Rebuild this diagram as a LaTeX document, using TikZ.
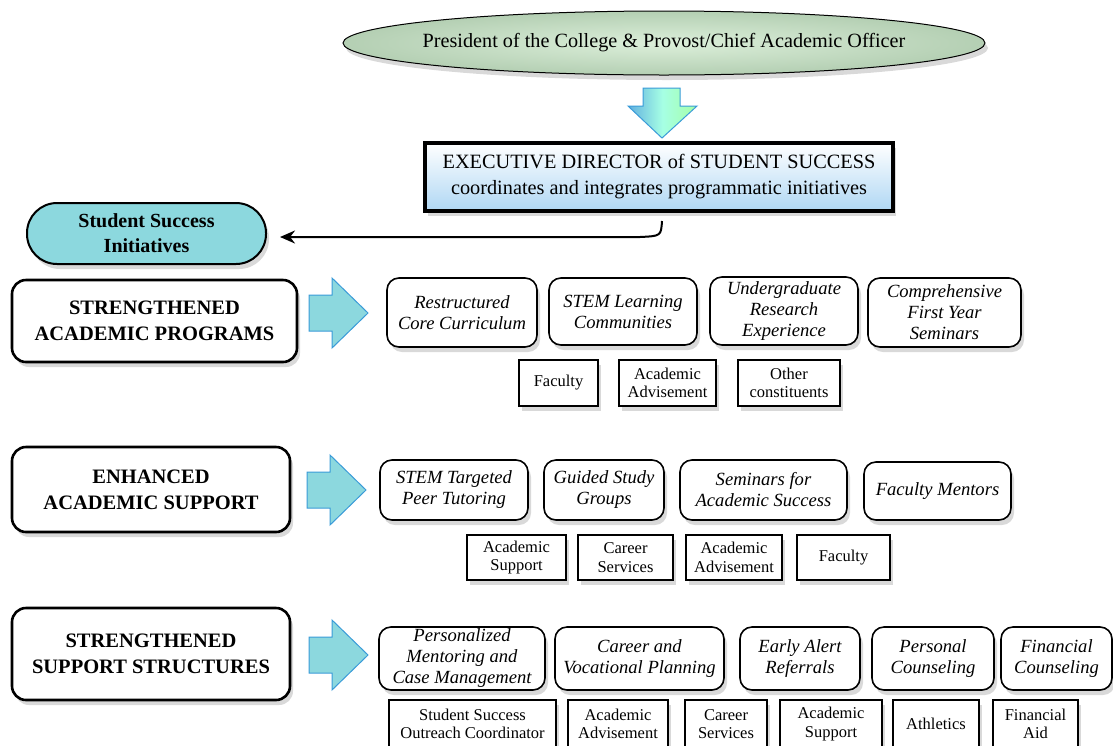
\documentclass[tikz,border=0pt]{standalone}
\usepackage{fontspec}
\setmainfont{Liberation Serif}
\usetikzlibrary{shadows,arrows.meta,calc,shapes.geometric}
\definecolor{cyanfill}{HTML}{8CD8DE}
\definecolor{arrowblue}{HTML}{3A9BD8}
\definecolor{ellgreen}{HTML}{DCEFDA}
\definecolor{ellgreendark}{HTML}{B4CFB3}
\definecolor{execblue}{HTML}{AFD7F4}
\newcommand\rightblock[2]{%
  \draw[arrowblue, line width=1pt, fill=cyanfill]
    (#1,#2-18) -- ++(23,0) -- ++(0,-17) -- ++(36,35) -- ++(-36,35) -- ++(0,-17) -- ++(-23,0) -- cycle;}
\begin{document}
\begin{tikzpicture}[x=1pt,y=-1pt,
  shd/.style={drop shadow={shadow xshift=3pt, shadow yshift=-5pt, opacity=0.3}},
  rbox/.style={draw, line width=1.6pt, rounded corners=12pt, fill=white, align=center, inner sep=0pt,
    font=\fontsize{18.6}{21}\selectfont\itshape, shd},
  sbox/.style={draw, line width=1.3pt, fill=white, align=center, inner sep=0pt,
    font=\fontsize{16.5}{18.5}\selectfont, shd},
  secbox/.style={draw, line width=2.6pt, rounded corners=14pt, fill=white, align=center, inner sep=0pt,
    font=\fontsize{20.5}{26}\selectfont\bfseries, shd},
]
\useasboundingbox (0,0) rectangle (1113,745);

% top
\node[ellipse, draw, line width=1pt, inner color=ellgreen, outer color=ellgreendark, minimum width=642pt, minimum height=64pt,
  inner sep=0pt, shd] (pres) at (664,43) {};
\node[font=\fontsize{20.2}{22}\selectfont, inner sep=0pt] (prestext) at (pres.center) {President of the College \& Provost/Chief Academic Officer};

% down arrow
\draw[arrowblue, line width=1pt, left color=arrowblue!80, right color=green!35!white, middle color=green!30!cyan!35]
  (643,88) -- (680,88) -- (680,106) -- (697,106) -- (662,138) -- (628,106) -- (643,106) -- cycle;

\node[draw, line width=4pt, top color=white, bottom color=execblue, minimum width=468pt, minimum height=68pt, inner sep=0pt,
  align=center, font=\fontsize{20.3}{26}\selectfont, shd] (exec) at (659,177)
  {EXECUTIVE DIRECTOR of STUDENT SUCCESS\\coordinates and integrates programmatic initiatives};

\node[draw, line width=2pt, fill=cyanfill, rounded corners=30pt, minimum width=239pt, minimum height=61pt, inner sep=0pt,
  align=center, font=\fontsize{20}{25}\selectfont\bfseries, shd] (ssi) at (146.5,233.5) {Student Success\\Initiatives};

\coordinate (c1) at (662,221);
\coordinate (c2) at (280,237);
\draw[line width=2pt, -{Stealth[length=15pt,width=13pt]}] (c1) .. controls (661,236) .. (640,237) -- (c2);

% sections
\node[secbox, minimum width=285pt, minimum height=82pt] (sec1) at (154.5,321) {STRENGTHENED\\ACADEMIC PROGRAMS};
\node[secbox, minimum width=278pt, minimum height=85pt] (sec2) at (151,489.5) {ENHANCED\\ACADEMIC SUPPORT};
\node[secbox, minimum width=278pt, minimum height=92pt] (sec3) at (151,654) {STRENGTHENED\\SUPPORT STRUCTURES};

\rightblock{309}{313}
\rightblock{307}{490}
\rightblock{309}{655}

% row 1
\node[rbox, minimum width=150pt, minimum height=69pt] (r11) at (462,312.5) {Restructured\\Core Curriculum};
\node[rbox, minimum width=148pt, minimum height=67pt] (r12) at (623,311.5) {STEM Learning\\Communities};
\node[rbox, minimum width=148pt, minimum height=68pt] (r13) at (784,311) {Undergraduate\\Research\\Experience};
\node[rbox, minimum width=153pt, minimum height=69pt] (r14) at (944.5,312.5) {Comprehensive\\First Year\\Seminars};
\node[sbox, minimum width=79pt, minimum height=46pt] (s11) at (558.5,383) {Faculty};
\node[sbox, minimum width=97pt, minimum height=46pt] (s12) at (667.5,383) {Academic\\Advisement};
\node[sbox, minimum width=102pt, minimum height=46pt] (s13) at (789,383) {Other\\constituents};

% row 2
\node[rbox, minimum width=148pt, minimum height=60pt] (r21) at (454,490) {STEM Targeted\\Peer Tutoring};
\node[rbox, minimum width=120pt, minimum height=60pt] (r22) at (604,490) {Guided Study\\Groups};
\node[rbox, minimum width=167pt, minimum height=60pt] (r23) at (763.5,490) {Seminars for\\Academic Success};
\node[rbox, minimum width=147pt, minimum height=58pt] (r24) at (937.5,491) {Faculty Mentors};
\node[sbox, minimum width=99pt, minimum height=45pt] (s21) at (516.5,557.5) {Academic\\Support};
\node[sbox, minimum width=95pt, minimum height=45pt] (s22) at (625.5,557.5) {Career\\Services};
\node[sbox, minimum width=96pt, minimum height=45pt] (s23) at (734,557.5) {Academic\\Advisement};
\node[sbox, minimum width=93pt, minimum height=45pt] (s24) at (843.5,557.5) {Faculty};

% row 3
\node[rbox, minimum width=166pt, minimum height=63pt] (r31) at (462,658.5) {Personalized\\Mentoring and\\Case Management};
\node[rbox, minimum width=169pt, minimum height=63pt] (r32) at (639.5,658.5) {Career and\\Vocational Planning};
\node[rbox, minimum width=120pt, minimum height=63pt] (r33) at (800,658.5) {Early Alert\\Referrals};
\node[rbox, minimum width=122pt, minimum height=63pt] (r34) at (933,658.5) {Personal\\Counseling};
\node[rbox, minimum width=111pt, minimum height=63pt] (r35) at (1056.5,658.5) {Financial\\Counseling};
\node[sbox, minimum width=167pt, minimum height=48pt] (s31) at (472.5,724) {Student Success\\Outreach Coordinator};
\node[sbox, minimum width=100pt, minimum height=48pt] (s32) at (618,724) {Academic\\Advisement};
\node[sbox, minimum width=82pt, minimum height=48pt] (s33) at (726,724) {Career\\Services};
\node[sbox, minimum width=102pt, minimum height=48pt] (s34) at (831,724) {Academic\\Support};
\node[sbox, minimum width=86pt, minimum height=48pt] (s35) at (936,724) {Athletics};
\node[sbox, minimum width=85pt, minimum height=48pt] (s36) at (1035.5,724) {Financial\\Aid};
\end{tikzpicture}
\end{document}
